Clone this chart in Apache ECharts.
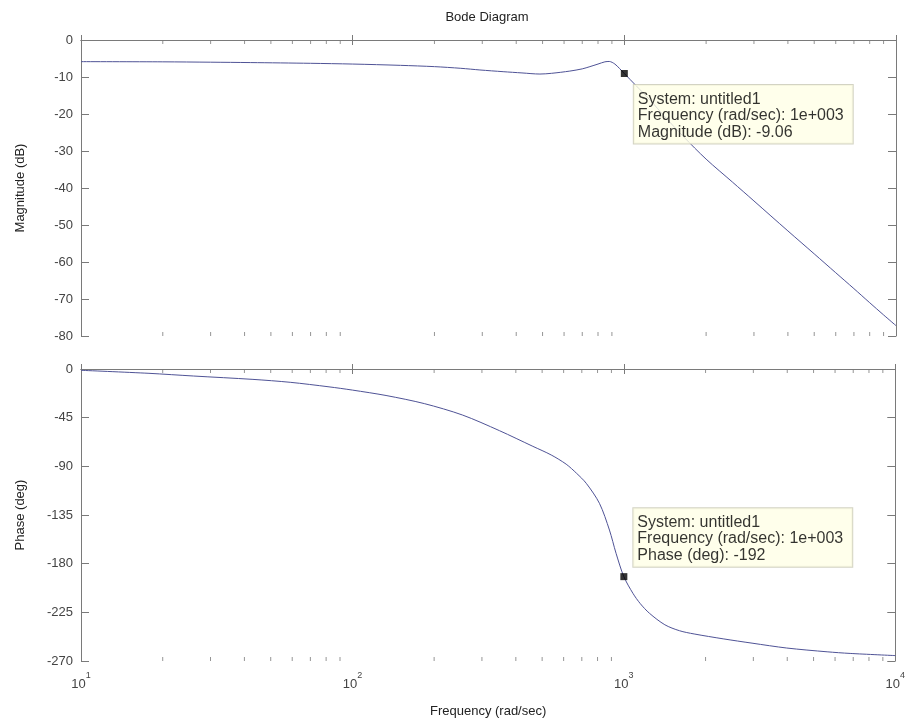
<!DOCTYPE html>
<html>
<head>
<meta charset="utf-8">
<script src="https://cdn.jsdelivr.net/npm/echarts@6/dist/echarts.min.js"></script>
<style>
  html, body { margin: 0; padding: 0; background: #fff; }
  #chart { width: 908px; height: 725px; }
</style>
</head>
<body>
<div id="chart"></div>
<script>
// magnitude curve (rad/sec, dB)
const magFreq = [10, 20, 30, 42, 70, 100, 150, 200, 250, 294, 358, 420, 489, 540, 630, 700, 747, 800, 848, 880, 923, 960, 1000,
  1100, 1250, 1400, 1650, 2000, 2500, 3000, 4000, 5000, 6000, 7000, 8000, 9000, 10000];
const magDb = [-5.85, -5.9, -6.0, -6.1, -6.3, -6.5, -6.85, -7.2, -7.65, -8.1, -8.56, -8.9, -9.2, -9.0, -8.4, -7.8, -7.2, -6.5, -5.9, -5.8, -6.5, -7.7, -9.06,
  -12.2, -16.4, -20.5, -26.1, -32.2, -38.4, -43.5, -51.6, -57.8, -62.9, -67.2, -71.0, -74.3, -77.2];

// phase curve (rad/sec, deg)
const phaseFreq = [10, 17.8, 26, 43, 59, 82, 100, 133, 184, 254, 348, 462, 540, 613, 670, 727, 813, 885, 936, 1000, 1080, 1150, 1243, 1416,
  1603, 1815, 2322, 2967, 3981, 5610, 6820, 10000];
const phaseDeg = [-1.2, -4.0, -6.5, -9.6, -12.3, -16.5, -19.5, -24.5, -32, -42.5, -57, -71.5, -79.5, -88, -96.5, -105.7, -124.2, -148.9, -170.4, -192, -207.4, -217, -225.9, -236.5,
  -242, -245, -249.5, -253.5, -258, -261.5, -263, -265];

// data tips
const tipFreq = 1000;
const tipMag = -9.06;
const tipPhase = -192;

const minorTicks = [20, 30, 40, 50, 60, 70, 80, 90, 200, 300, 400, 500, 600, 700, 800, 900,
  2000, 3000, 4000, 5000, 6000, 7000, 8000, 9000];

const FONT = '"Liberation Sans", Arial, sans-serif';
const AXIS_COLOR = '#7a7a7a';
const LABEL_COLOR = '#444';
const LINE_COLOR = '#4f5396';

const chart = echarts.init(document.getElementById('chart'));

const logX = (grid, pos, extra) => Object.assign({
  type: 'log', logBase: 10, gridIndex: grid, position: pos, min: 10, max: 10000,
  axisLine: { show: true, lineStyle: { color: AXIS_COLOR } },
  axisTick: { show: true, inside: true, length: 5, lineStyle: { color: AXIS_COLOR } },
  axisLabel: { show: false },
  splitLine: { show: false }
}, extra || {});

const valY = (grid, pos, min, max, step, extra) => Object.assign({
  type: 'value', gridIndex: grid, position: pos, min: min, max: max, interval: step,
  axisLine: { show: true, lineStyle: { color: AXIS_COLOR } },
  axisTick: { show: true, inside: true, length: 8, lineStyle: { color: AXIS_COLOR } },
  axisLabel: { show: false },
  splitLine: { show: false }
}, extra || {});

const yLabel = { show: true, color: LABEL_COLOR, fontSize: 13, fontFamily: FONT, margin: 8 };

const minorSeries = (xi, yi, yVal, off) => ({
  type: 'scatter', xAxisIndex: xi, yAxisIndex: yi, silent: true, clip: false,
  symbol: 'rect', symbolSize: [1, 4], symbolOffset: [0, off],
  itemStyle: { color: AXIS_COLOR },
  data: minorTicks.map(v => [v, yVal]), z: 1
});

const tipSeries = (xi, yi, y, pos, text) => ({
  type: 'scatter', xAxisIndex: xi, yAxisIndex: yi, silent: true, clip: false,
  symbol: 'rect', symbolSize: 7, itemStyle: { color: '#000' }, z: 5,
  data: [[tipFreq, y]],
  label: {
    show: true, position: pos, formatter: text,
    fontFamily: FONT, fontSize: 16, lineHeight: 16.5, color: '#000',
    backgroundColor: '#ffffe6', borderColor: '#c8c8b4', borderWidth: 1,
    padding: [6, 9, 3, 4], align: 'left', verticalAlign: 'top'
  }
});

chart.setOption({
  animation: false,
  backgroundColor: '#fff',
  title: {
    text: 'Bode Diagram', left: 482, top: 6, textAlign: 'center',
    textStyle: { fontFamily: FONT, fontSize: 13, fontWeight: 'normal', color: '#222' }
  },
  grid: [
    { left: 81, right: 12, top: 40, height: 296 },
    { left: 81, right: 12, top: 369, height: 292 }
  ],
  xAxis: [
    logX(0, 'bottom'),
    logX(0, 'top'),
    logX(1, 'bottom', {
      name: 'Frequency (rad/sec)', nameLocation: 'middle', nameGap: 44,
      nameTextStyle: { fontFamily: FONT, fontSize: 13, color: '#222' },
      axisLabel: {
        show: true, margin: 10,
        formatter: v => '{b|10}{s|' + Math.round(Math.log10(v)) + '}',
        rich: {
          b: { fontFamily: FONT, fontSize: 13, color: LABEL_COLOR, lineHeight: 20, verticalAlign: 'bottom' },
          s: { fontFamily: FONT, fontSize: 9, color: LABEL_COLOR, verticalAlign: 'top' }
        }
      }
    }),
    logX(1, 'top')
  ],
  yAxis: [
    valY(0, 'left', -80, 0, 10, {
      name: 'Magnitude (dB)', nameLocation: 'middle', nameGap: 54, nameRotate: 90,
      nameTextStyle: { fontFamily: FONT, fontSize: 13, color: '#222' },
      axisLabel: yLabel
    }),
    valY(0, 'right', -80, 0, 10),
    valY(1, 'left', -270, 0, 45, {
      name: 'Phase (deg)', nameLocation: 'middle', nameGap: 54, nameRotate: 90,
      nameTextStyle: { fontFamily: FONT, fontSize: 13, color: '#222' },
      axisLabel: yLabel
    }),
    valY(1, 'right', -270, 0, 45)
  ],
  series: [
    {
      type: 'line', xAxisIndex: 0, yAxisIndex: 0, showSymbol: false, smooth: 0.3,
      lineStyle: { color: LINE_COLOR, width: 1 }, silent: true, z: 3,
      data: magFreq.map((f, i) => [f, magDb[i]])
    },
    {
      type: 'line', xAxisIndex: 2, yAxisIndex: 2, showSymbol: false, smooth: 0.3,
      lineStyle: { color: LINE_COLOR, width: 1 }, silent: true, z: 3,
      data: phaseFreq.map((f, i) => [f, phaseDeg[i]])
    },
    minorSeries(0, 0, -80, -2),
    minorSeries(0, 0, 0, 2),
    minorSeries(2, 2, -270, -2),
    minorSeries(2, 2, 0, 2),
    tipSeries(0, 0, tipMag, [13, 15], 'System: untitled1\nFrequency (rad/sec): 1e+003\nMagnitude (dB): ' + tipMag),
    tipSeries(2, 2, tipPhase, [13, -65], 'System: untitled1\nFrequency (rad/sec): 1e+003\nPhase (deg): ' + tipPhase)
  ]
});
</script>
</body>
</html>
